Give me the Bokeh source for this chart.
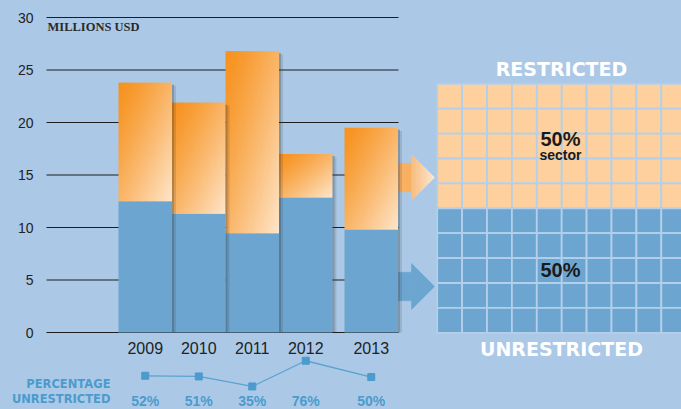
import numpy as np
from bokeh.plotting import figure
from bokeh.models import Range1d
from bokeh.core.properties import value
from bokeh.embed import file_html
from bokeh.resources import INLINE

# ---------------- data ----------------
years = ["2009", "2010", "2011", "2012", "2013"]
unrestricted = [12.5, 11.3, 9.45, 12.85, 9.8]      # millions USD
total = [23.8, 21.9, 26.8, 17.0, 19.5]            # millions USD
pct_unrestricted = [52, 51, 35, 76, 50]           # percent
y_ticks = [0, 5, 10, 15, 20, 25, 30]
y_tick_labels = ["0", "5", "10", "15", "20", "25", "30"]
sector_restricted = 50
sector_unrestricted = 50

# ---------------- layout (reference pixel space) ----------------
REF_W, REF_H = 681, 409
W, H = 681, 409
FS = 1.0                        # font scale
Y0_PX, PX_PER_UNIT = 332.0, 10.5
BAR_X0, BAR_W, GAP_LAST = 118.0, 53.5, 12.0
GRID_X0, GRID_X1 = 46.0, 398.0
PCT_Y0_PX, PCT_PX = 407.9, 0.627
CELL_X0, CELL_Y0, CELL = 436.7, 83.3, 24.9
NCOLS, NROWS = 10, 10

BG = "#abc9e7"
BLUE = "#6ca5d0"
DARK = "#1e1e1e"
LBLUE_TXT = "#4b9bcc"
ORANGE_A = np.array([247, 146, 30])
ORANGE_B = np.array([254, 230, 203])
CELL_OR = "#fdd09d"

p = figure(width=W, height=H, output_backend="svg", toolbar_location=None,
           x_range=Range1d(0, REF_W),
           y_range=Range1d((Y0_PX - REF_H) / PX_PER_UNIT, Y0_PX / PX_PER_UNIT),
           min_border=0, background_fill_color=BG, border_fill_color=BG)
p.outline_line_color = None
p.xaxis.visible = False
p.yaxis.visible = False
p.grid.visible = False
p.extra_y_ranges = {
    "px": Range1d(REF_H, 0),
    "pct": Range1d((PCT_Y0_PX - REF_H) / PCT_PX, PCT_Y0_PX / PCT_PX),
}

n = len(years)
centers = [BAR_X0 + BAR_W * (i + 0.5) + (GAP_LAST if i == n - 1 else 0) for i in range(n)]
lefts = [c - BAR_W / 2 for c in centers]
rights = [c + BAR_W / 2 for c in centers]
restricted = [t - u for t, u in zip(total, unrestricted)]

# gridlines
p.segment(x0=[GRID_X0] * len(y_ticks), x1=[GRID_X1] * len(y_ticks), y0=y_ticks, y1=y_ticks,
          line_color=DARK, line_width=1.1)
p.text(x=[33] * len(y_ticks), y=y_ticks, text=y_tick_labels, text_align="right",
       text_baseline="middle", text_font=value("Liberation Sans"),
       text_font_size=f"{14 * FS:.1f}px", text_color="#222222")
p.text(x=[47], y=[26], y_range_name="px", text=["MILLIONS USD"], text_align="left",
       text_baseline="middle", text_font=value("Liberation Serif"),
       text_font_size=f"{12.5 * FS:.1f}px", text_font_style="bold", text_color="#2a2a2a")

# arrows (decoration), gradient for orange one
def arrow_strips(cy, x0=398.0, xb=411.0, xt=434.0, hs=14.2, hh=23.0, nstrip=14):
    xs_list, ys_list, ts = [], [], []
    xs_list.append([x0, xb, xb, x0]); ys_list.append([cy - hs, cy - hs, cy + hs, cy + hs]); ts.append(0.1)
    edges = np.linspace(xb, xt, nstrip + 1)
    for a, b in zip(edges[:-1], edges[1:]):
        ha = hh * (xt - a) / (xt - xb)
        hb = hh * (xt - b) / (xt - xb)
        xs_list.append([a, b, b, a]); ys_list.append([cy - ha, cy - hb, cy + hb, cy + ha])
        ts.append(0.3 + 0.7 * ((a + b) / 2 - xb) / (xt - xb))
    return xs_list, ys_list, ts

axs, ays, ats = arrow_strips(177.0)
ocols = []
c0 = np.array([249, 170, 88]); c1 = np.array([254, 232, 207])
for t in ats:
    c = (c0 + (c1 - c0) * t).astype(int)
    ocols.append("#%02x%02x%02x" % tuple(c))
p.patches(xs=axs, ys=ays, y_range_name="px", fill_color=ocols, line_color=ocols, line_width=0.6)
bxs, bys, _ = arrow_strips(286.0, nstrip=1)
p.patches(xs=bxs, ys=bys, y_range_name="px", fill_color=BLUE, line_color=BLUE, line_width=0.6)

# bars: unrestricted (blue)
p.quad(left=lefts, right=rights, bottom=[0] * n, top=unrestricted, fill_color=BLUE, line_color=None)

# bars: restricted (orange diagonal gradient)
imgs = []
NX, NY = 60, 60
for i in range(n):
    u = np.linspace(0, 1, NX)[None, :]
    v_from_top = np.linspace(1, 0, NY)[:, None]  # row 0 = bottom
    t = np.clip((u + v_from_top) / 2.0, 0, 1)
    t = t ** 1.25
    rgb = ORANGE_A[None, None, :] + (ORANGE_B - ORANGE_A)[None, None, :] * t[:, :, None]
    img = np.empty((NY, NX), dtype=np.uint32)
    view = img.view(dtype=np.uint8).reshape((NY, NX, 4))
    view[:, :, 0:3] = rgb.astype(np.uint8)
    view[:, :, 3] = 255
    imgs.append(img)
p.image_rgba(image=imgs, x=lefts, y=unrestricted, dw=[BAR_W] * n, dh=restricted)

# bar shadows
p.quad(left=rights, right=[r + 2 for r in rights], bottom=[0] * n, top=[t - 0.2 for t in total],
       fill_color="#333333", fill_alpha=0.35, line_color=None)
p.quad(left=[r + 2 for r in rights], right=[r + 4 for r in rights], bottom=[0] * n,
       top=[t - 0.3 for t in total], fill_color="#333333", fill_alpha=0.15, line_color=None)

# year labels
p.text(x=centers, y=[347] * n, y_range_name="px", text=years, text_align="center",
       text_baseline="middle", text_font=value("Liberation Sans"),
       text_font_size=f"{16 * FS:.1f}px", text_color="#222222")

# percentage unrestricted line
p.line(x=centers, y=pct_unrestricted, y_range_name="pct", line_color="#5aa2d0", line_width=1.3)
p.scatter(x=centers, y=pct_unrestricted, y_range_name="pct", marker="square", size=7,
          fill_color=LBLUE_TXT, line_color=LBLUE_TXT)
p.text(x=centers, y=[400] * n, y_range_name="px", text=[f"{v}%" for v in pct_unrestricted],
       text_align="center", text_baseline="middle", text_font=value("Liberation Sans"),
       text_font_size=f"{14 * FS:.1f}px", text_font_style="bold", text_color=LBLUE_TXT)
p.text(x=[110, 110], y=[383, 398], y_range_name="px", text=["PERCENTAGE", "UNRESTRICTED"],
       text_align="right", text_baseline="middle", text_font=value("DejaVu Sans"),
       text_font_size=f"{11.5 * FS:.1f}px", text_font_style="bold", text_color=LBLUE_TXT)

# sector grid of 100 cells
n_or = int(round(sector_restricted * NCOLS * NROWS / 100))
cx, cy, cc = [], [], []
for k in range(NCOLS * NROWS):
    r, c = divmod(k, NCOLS)
    cx.append(CELL_X0 + CELL * (c + 0.5))
    cy.append(CELL_Y0 + CELL * (r + 0.5))
    cc.append(CELL_OR if k < n_or else BLUE)
p.rect(x=cx, y=cy, width=CELL, height=CELL, y_range_name="px", fill_color=cc,
       line_color="#b3cfe9", line_width=1.8)

p.text(x=[561, 561], y=[68, 348], y_range_name="px", text=["RESTRICTED", "UNRESTRICTED"],
       text_align="center", text_baseline="middle", text_font=value("DejaVu Sans"),
       text_font_size=f"{19 * FS:.1f}px", text_font_style="bold", text_color="white")
p.text(x=[560, 560], y=[138, 269], y_range_name="px",
       text=[f"{sector_restricted}%", f"{sector_unrestricted}%"],
       text_align="center", text_baseline="middle", text_font=value("Liberation Sans"),
       text_font_size=f"{20 * FS:.1f}px", text_font_style="bold", text_color="#1a1a1a")
p.text(x=[560], y=[154], y_range_name="px", text=["sector"], text_align="center",
       text_baseline="middle", text_font=value("Liberation Sans"),
       text_font_size=f"{14 * FS:.1f}px", text_font_style="bold", text_color="#1a1a1a")

html = file_html(p, INLINE)
html = html.replace("</head>", "<style>html,body{background:%s;}</style></head>" % BG, 1)
open("out.html", "w").write(html)
